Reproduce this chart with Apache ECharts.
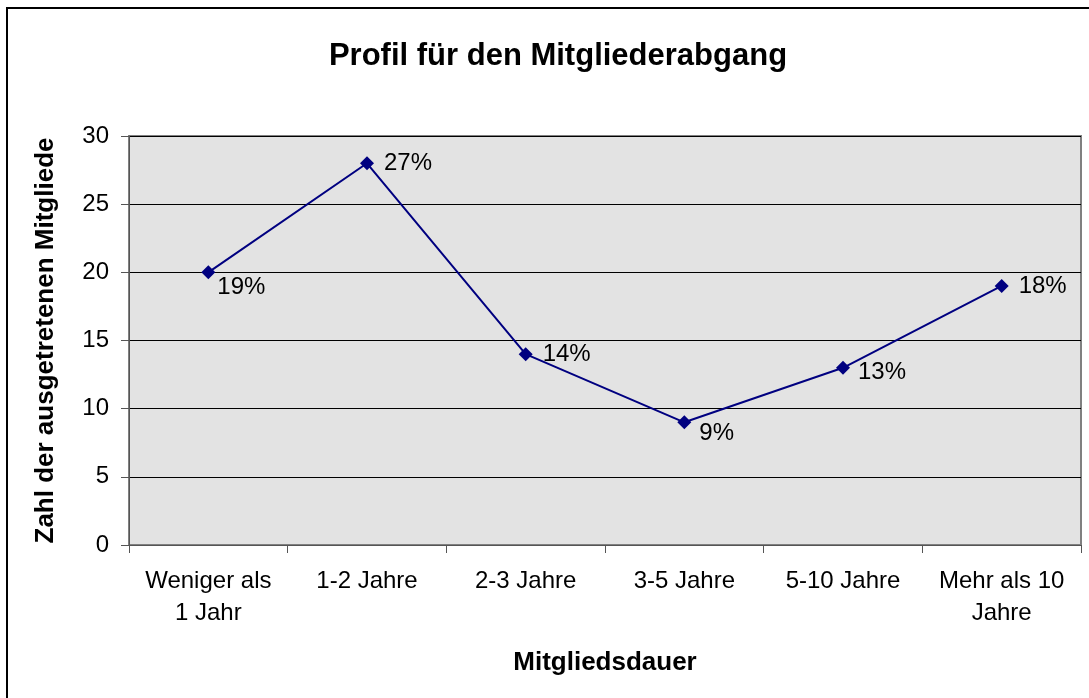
<!DOCTYPE html>
<html>
<head>
<meta charset="utf-8">
<script src="https://cdn.jsdelivr.net/npm/echarts@6/dist/echarts.min.js"></script>
<style>
  html, body { margin: 0; padding: 0; background: #fff; }
  #chart { width: 1089px; height: 698px; }
</style>
</head>
<body>
<div id="chart"></div>
<script>
// Daten
const categories = ['Weniger als\n1 Jahr', '1-2 Jahre', '2-3 Jahre', '3-5 Jahre', '5-10 Jahre', 'Mehr als 10\nJahre'];
const values = [20, 28, 14, 9, 13, 19];
const percentLabels = ['19%', '27%', '14%', '9%', '13%', '18%'];
const yTicks = [0, 5, 10, 15, 20, 25, 30];

// Label-Verschiebung je Punkt (Layout, nicht Daten)
const labelOffsets = [[-8, 15], [0, 0], [0, 0], [-2, 11], [-2, 5], [0, 0]];

const chart = echarts.init(document.getElementById('chart'));
const font = 'Liberation Sans, Arial, sans-serif';

const option = {
  backgroundColor: '#fff',
  textStyle: { fontFamily: font },
  title: {
    text: 'Profil für den Mitgliederabgang',
    left: 553,
    top: 36,
    textAlign: 'center',
    textStyle: { fontFamily: font, fontSize: 31, fontWeight: 'bold', color: '#000' }
  },
  graphic: [{
    type: 'rect',
    shape: { x: 7, y: 8, width: 1200, height: 800 },
    style: { fill: 'none', stroke: '#000', lineWidth: 2 },
    silent: true
  }],
  grid: {
    left: 129, top: 136, width: 952, height: 409,
    show: true,
    backgroundColor: '#e3e3e3',
    borderColor: '#808080',
    borderWidth: 2
  },
  xAxis: {
    type: 'category',
    data: categories,
    boundaryGap: true,
    name: 'Mitgliedsdauer',
    nameLocation: 'middle',
    nameGap: 105,
    nameTextStyle: { fontFamily: font, fontSize: 26, fontWeight: 'bold', color: '#000' },
    axisLine: { lineStyle: { color: '#555', width: 1 } },
    axisTick: { show: true, alignWithLabel: false, length: 8, lineStyle: { color: '#555' } },
    axisLabel: { fontFamily: font, fontSize: 24, color: '#000', margin: 20, lineHeight: 32, interval: 0 }
  },
  yAxis: {
    type: 'value',
    min: 0,
    max: 30,
    interval: 5,
    name: 'Zahl der ausgetretenen Mitgliede',
    nameLocation: 'middle',
    nameGap: 70,
    nameTextStyle: { fontFamily: font, fontSize: 26, fontWeight: 'bold', color: '#000' },
    axisLine: { show: true, lineStyle: { color: '#555', width: 1 } },
    axisTick: { show: true, length: 8, lineStyle: { color: '#555' } },
    axisLabel: {
      fontFamily: font, fontSize: 24, color: '#000', margin: 20,
      formatter: v => (yTicks.includes(v) ? String(v) : '')
    },
    splitLine: { show: true, lineStyle: { color: '#000', width: 1 } }
  },
  series: [{
    type: 'line',
    data: values.map((v, i) => ({
      value: v,
      label: { offset: labelOffsets[i] }
    })),
    symbol: 'diamond',
    symbolSize: 14,
    lineStyle: { color: '#000080', width: 2 },
    itemStyle: { color: '#000080' },
    label: {
      show: true,
      position: 'right',
      distance: 10,
      fontFamily: font,
      fontSize: 24,
      color: '#000',
      formatter: p => percentLabels[p.dataIndex]
    },
    animation: false
  }]
};

chart.setOption(option);
</script>
</body>
</html>
